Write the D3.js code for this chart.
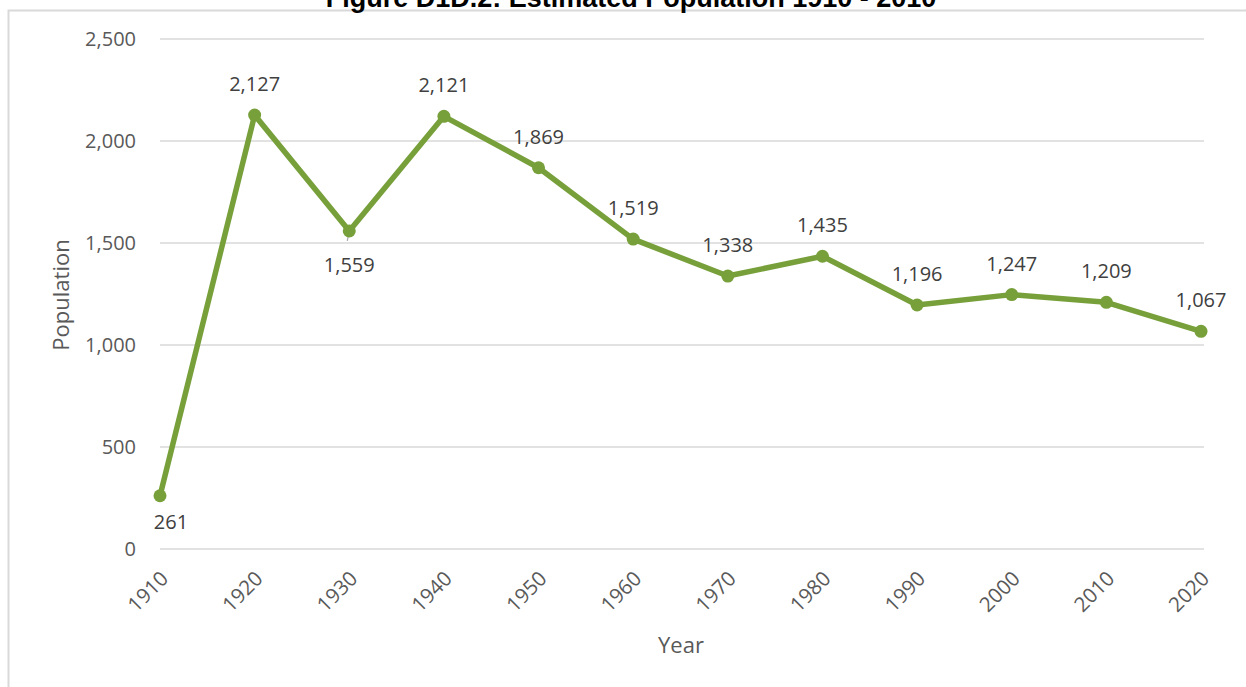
<!DOCTYPE html>
<html><head><meta charset="utf-8">
<script src="https://cdn.jsdelivr.net/npm/d3@7"></script>
<style>body{margin:0;background:#fff;}svg{display:block;}</style>
</head><body>
<script>
const years = [1910,1920,1930,1940,1950,1960,1970,1980,1990,2000,2010,2020];
const population = [261,2127,1559,2121,1869,1519,1338,1435,1196,1247,1209,1067];
const yTicks = [0,500,1000,1500,2000,2500];
const labelBelow = [1910,1930];
const title = "Figure D1D.2: Estimated Population 1910 - 2010";

const W=1246,H=687;
const svg=d3.select("body").append("svg").attr("width",W).attr("height",H);
const font="'Open Sans', Lato, sans-serif";
const txt="#595959";

// chart border
svg.append("rect").attr("x",8.5).attr("y",10.5).attr("width",W).attr("height",H)
  .attr("fill","none").attr("stroke","#d9d9d9").attr("stroke-width",2);

svg.append("text").attr("x",631).attr("y",7).attr("text-anchor","middle")
  .attr("font-family","Arial, 'Liberation Sans', sans-serif").attr("font-weight","bold")
  .attr("font-size",27).attr("fill","#000").text(title);

const x=d3.scalePoint().domain(years).range([160,1201]);
const y=d3.scaleLinear().domain([0,2500]).range([549,39]);

// gridlines
svg.append("g").selectAll("line").data(yTicks).join("line")
  .attr("x1",160).attr("x2",1204).attr("y1",d=>y(d)).attr("y2",d=>y(d))
  .attr("stroke","#d9d9d9").attr("stroke-width",1.5);

// y axis labels
const yAxis=svg.append("g").attr("transform","translate(150,0)")
  .call(d3.axisLeft(y).tickValues(yTicks).tickSize(0).tickPadding(14).tickFormat(d3.format(",")));
yAxis.select(".domain").remove();
yAxis.selectAll("text").attr("font-family",font).attr("font-size",20).attr("fill",txt);

// x axis labels
const xAxis=svg.append("g").attr("transform","translate(0,549)")
  .call(d3.axisBottom(x).tickSize(0).tickPadding(0).tickFormat(d3.format("d")));
xAxis.select(".domain").remove();
xAxis.selectAll("text").attr("font-family",font).attr("font-size",20.5).attr("fill",txt)
  .attr("text-anchor","end").attr("dy",null).attr("dx",null)
  .attr("transform","translate(9,31) rotate(-45)");

// axis titles
svg.append("text").attr("x",681).attr("y",653).attr("text-anchor","middle")
  .attr("font-family",font).attr("font-size",22).attr("fill",txt).text("Year");
svg.append("text").attr("transform","translate(69,295) rotate(-90)").attr("text-anchor","middle")
  .attr("font-family",font).attr("font-size",22).attr("fill",txt).text("Population");

const data=years.map((yr,i)=>({yr,v:population[i]}));
const green="#77a03b";

// leader line for 1930
svg.append("line").attr("x1",x(1930)).attr("y1",y(1559)).attr("x2",x(1930)-2).attr("y2",y(1559)+10)
  .attr("stroke","#a6a6a6").attr("stroke-width",1.2);

svg.append("path").datum(data)
  .attr("d",d3.line().x(d=>x(d.yr)).y(d=>y(d.v)))
  .attr("fill","none").attr("stroke",green).attr("stroke-width",5.5).attr("stroke-linejoin","round");
svg.append("g").selectAll("circle").data(data).join("circle")
  .attr("cx",d=>x(d.yr)).attr("cy",d=>y(d.v)).attr("r",6.5).attr("fill",green);

svg.append("g").selectAll("text").data(data).join("text")
  .attr("x",d=>x(d.yr)+(d.yr===1910?11:0))
  .attr("y",d=>d.yr===1910? y(d.v)+33 : d.yr===1930 ? y(d.v)+41 : y(d.v)-24)
  .attr("text-anchor","middle").attr("font-family",font).attr("font-size",20).attr("fill","#404040")
  .text(d=>d3.format(",")(d.v));
</script>
</body></html>
